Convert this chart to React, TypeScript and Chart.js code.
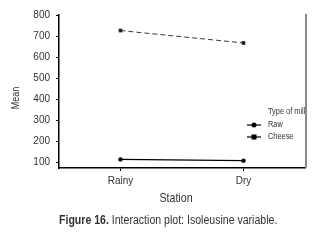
import React, { useEffect, useRef } from "react";
import { Chart, registerables } from "chart.js";

Chart.register(...registerables);

const categories = ["Rainy", "Dry"];
const rawMeans = [113, 107];
const cheeseMeans = [726, 667];
const yTicks = [100, 200, 300, 400, 500, 600, 700, 800];
const seriesNames = ["Raw", "Cheese"];
const legendTitle = "Type of milk";
const xTitle = "Station";
const yTitle = "Mean";
const captionBold = "Figure 16.";
const captionRest = " Interaction plot: Isoleusine variable.";

const FONT = '"Liberation Sans", Arial, sans-serif';
const TXT = "#333333";
const SX = 0.82;

function narrowText(ctx: CanvasRenderingContext2D, text: string, x: number, y: number, sx: number = SX) {
  ctx.save();
  ctx.translate(x, y);
  ctx.scale(sx, 1);
  ctx.fillText(text, 0, 0);
  ctx.restore();
}

const overlay = {
  id: "overlay",
  afterDraw(chart: any) {
    const ctx = chart.ctx as CanvasRenderingContext2D;
    const area = chart.chartArea;
    ctx.save();
    // right border
    ctx.strokeStyle = "#8a8a8a";
    ctx.lineWidth = 2;
    ctx.beginPath();
    ctx.moveTo(area.right + 1, area.top - 1);
    ctx.lineTo(area.right + 1, area.bottom);
    ctx.stroke();

    // axis titles
    ctx.fillStyle = TXT;
    ctx.textAlign = "center";
    ctx.textBaseline = "middle";
    ctx.font = `13px ${FONT}`;
    narrowText(ctx, xTitle, 176, 198);
    ctx.save();
    ctx.translate(16, 98);
    ctx.rotate(-Math.PI / 2);
    ctx.font = `11px ${FONT}`;
    narrowText(ctx, yTitle, 0, 0);
    ctx.restore();

    // caption
    const csx = 0.88;
    ctx.textAlign = "left";
    ctx.font = `bold 12px ${FONT}`;
    const bw = ctx.measureText(captionBold).width * csx;
    narrowText(ctx, captionBold, 59, 221, csx);
    ctx.font = `12px ${FONT}`;
    narrowText(ctx, captionRest, 59 + bw, 221, csx);

    // legend (clipped at right border)
    ctx.save();
    ctx.beginPath();
    ctx.rect(0, 0, area.right, 240);
    ctx.clip();
    ctx.font = `9px ${FONT}`;
    ctx.fillStyle = TXT;
    ctx.textAlign = "left";
    narrowText(ctx, legendTitle, 268, 112);
    const rows = [125, 137];
    chart.data.datasets.forEach((ds: any, i: number) => {
      const y = rows[i];
      ctx.strokeStyle = "#000";
      ctx.lineWidth = 1.2;
      ctx.setLineDash([]);
      ctx.beginPath();
      ctx.moveTo(247, y);
      ctx.lineTo(261, y);
      ctx.stroke();
      ctx.fillStyle = "#000";
      if (i === 0) {
        ctx.beginPath();
        ctx.arc(254, y, 2.5, 0, Math.PI * 2);
        ctx.fill();
      } else {
        ctx.fillRect(251.5, y - 2.5, 5, 5);
      }
      ctx.fillStyle = TXT;
      narrowText(ctx, ds.label, 268, y);
    });
    ctx.restore();
    ctx.restore();
  },
};

export default function App() {
  const ref = useRef<HTMLCanvasElement>(null);
  useEffect(() => {
    if (!ref.current) return;
    const chart = new Chart(ref.current, {
      type: "line",
      data: {
        labels: categories,
        datasets: [
          {
            label: seriesNames[0],
            data: rawMeans,
            borderColor: "#000",
            backgroundColor: "#000",
            borderWidth: 1.3,
            pointStyle: "circle",
            pointRadius: 2.2,
            pointBorderWidth: 0,
          },
          {
            label: seriesNames[1],
            data: cheeseMeans,
            borderColor: "#222",
            backgroundColor: "#222",
            borderWidth: 0.9,
            borderDash: [5, 3],
            pointStyle: "rect",
            pointRadius: 2.6,
            pointBorderWidth: 0,
          },
        ],
      },
      plugins: [overlay],
      options: {
        responsive: false,
        animation: false,
        events: [],
        layout: { padding: { top: 15, right: 27, left: 0, bottom: 0 } },
        plugins: { legend: { display: false }, tooltip: { enabled: false } },
        scales: {
          x: {
            type: "category",
            offset: true,
            grid: { display: true, drawOnChartArea: false, tickLength: 3, color: "#000", offset: false },
            border: { display: true, color: "#000", width: 1.5 },
            ticks: { color: TXT, font: { family: FONT, size: 10 }, padding: 4 },
            afterFit: (s: any) => { s.height = 72; },
          },
          y: {
            min: 72,
            max: 800,
            afterBuildTicks: (s: any) => { s.ticks = yTicks.map((v) => ({ value: v })); },
            grid: { display: true, drawOnChartArea: false, tickLength: 3, color: "#000" },
            border: { display: true, color: "#000", width: 1.5 },
            ticks: { color: TXT, font: { family: FONT, size: 10 }, padding: 6 },
            afterFit: (s: any) => { s.width = 59; },
          },
        },
      },
    } as any);
    return () => chart.destroy();
  }, []);
  return (
    <div style={{ position: "fixed", left: 0, top: 0, width: 332, height: 240, background: "#fff" }}>
      <canvas ref={ref} width={332} height={240} style={{ width: 332, height: 240, display: "block" }} />
    </div>
  );
}
